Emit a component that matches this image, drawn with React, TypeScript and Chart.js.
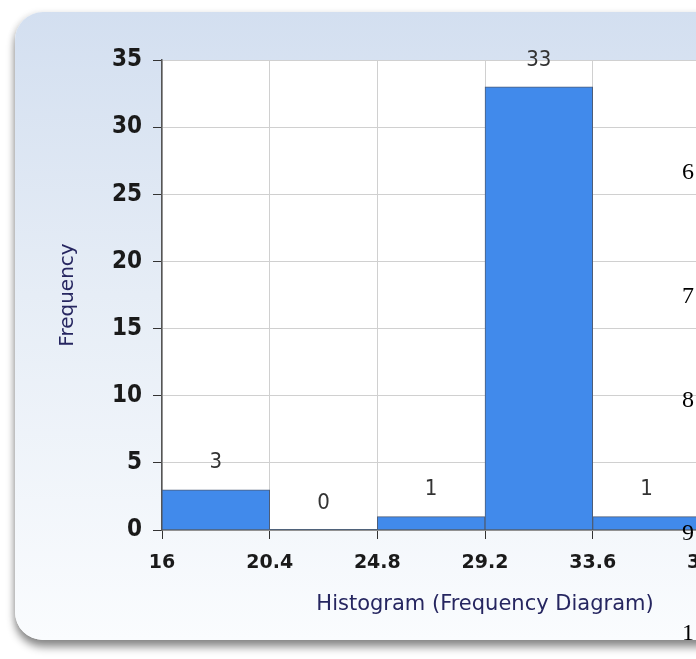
import React, { useEffect, useRef } from "react";
import { Chart, registerables } from "chart.js";

Chart.register(...registerables);

const binEdges = [16, 20.4, 24.8, 29.2, 33.6, 38, 42.4];
const tickLabels = ["16", "20.4", "24.8", "29.2", "33.6", "38", "42.4"];
const binCenters = [18.2, 22.6, 27, 31.4, 35.8, 40.2];
const frequencies = [3, 0, 1, 33, 1, 2];
const yTicks = [0, 5, 10, 15, 20, 25, 30, 35];
const sideDigits = ["6", "7", "8", "9", "1"];
const sideDigitTops = [159, 283, 387, 520, 620];

const CONDENSED = '"DejaVu Sans Condensed", "Liberation Sans Narrow", "DejaVu Sans", sans-serif';
const SANS = '"DejaVu Sans", Verdana, sans-serif';

const plotBg = {
  id: "plotBg",
  beforeDraw(chart: any) {
    const { ctx, chartArea } = chart;
    ctx.save();
    ctx.fillStyle = "#ffffff";
    ctx.fillRect(chartArea.left, chartArea.top, chartArea.right - chartArea.left, chartArea.bottom - chartArea.top);
    ctx.restore();
  },
};

const valueLabels = {
  id: "valueLabels",
  afterDatasetsDraw(chart: any) {
    const { ctx } = chart;
    const meta = chart.getDatasetMeta(0);
    const data = chart.data.datasets[0].data as any[];
    ctx.save();
    ctx.font = `22px ${CONDENSED}`;
    ctx.fillStyle = "#333333";
    ctx.textAlign = "center";
    ctx.textBaseline = "middle";
    meta.data.forEach((el: any, i: number) => {
      ctx.fillText(String(data[i].y), el.x, el.y - 27);
    });
    ctx.restore();
  },
};

export default function App() {
  const ref = useRef<HTMLCanvasElement | null>(null);

  useEffect(() => {
    if (!ref.current) return;
    const chart = new Chart(ref.current, {
      type: "bar",
      data: {
        datasets: [
          {
            label: "Frequency",
            data: binCenters.map((x, i) => ({ x, y: frequencies[i] })),
            backgroundColor: "#418aeb",
            borderColor: "#4d5d78",
            borderWidth: frequencies.map((v) => (v > 0 ? 1 : 0)),
            barPercentage: 1,
            categoryPercentage: 1,
          },
        ],
      },
      options: {
        animation: false,
        responsive: false,
        maintainAspectRatio: false,
        layout: { padding: { top: 60, right: 92, left: 0, bottom: 0 } },
        plugins: { legend: { display: false }, tooltip: { enabled: false } },
        scales: {
          x: {
            type: "linear",
            min: binEdges[0],
            max: binEdges[binEdges.length - 1],
            offset: false,
            grid: { offset: false, color: "#d0d0d0", tickColor: "#333333", tickLength: 9, lineWidth: 1 },
            border: { color: "#555555", width: 1.5 },
            afterBuildTicks: (scale: any) => {
              scale.ticks = binEdges.map((v) => ({ value: v }));
            },
            afterFit: (scale: any) => {
              scale.height = 129;
            },
            ticks: {
              autoSkip: false,
              maxRotation: 0,
              padding: 13,
              color: "#1a1a1a",
              font: { family: SANS, size: 19, weight: "bold" },
              callback: (v: any) => {
                const idx = binEdges.findIndex((e) => Math.abs(e - Number(v)) < 1e-6);
                return idx >= 0 ? tickLabels[idx] : "";
              },
            },
            title: {
              display: true,
              text: "Histogram (Frequency Diagram)",
              color: "#262660",
              font: { family: SANS, size: 21 },
              padding: { top: 0, bottom: 42 },
            },
          },
          y: {
            min: 0,
            max: 35,
            afterBuildTicks: (scale: any) => {
              scale.ticks = yTicks.map((v) => ({ value: v }));
            },
            afterFit: (scale: any) => {
              scale.width = 162;
            },
            grid: { color: "#d0d0d0", tickColor: "#333333", tickLength: 9, lineWidth: 1 },
            border: { color: "#555555", width: 1.5 },
            ticks: {
              padding: 11,
              color: "#1a1a1a",
              font: { family: CONDENSED, size: 24, weight: "bold" },
            },
            title: {
              display: true,
              text: "Frequency",
              color: "#262660",
              font: { family: SANS, size: 20 },
              padding: { top: 56, bottom: 0 },
            },
          },
        },
      },
      plugins: [plotBg, valueLabels],
    });
    return () => chart.destroy();
  }, []);

  return (
    <div style={{ position: "fixed", left: 0, top: 0, width: 696, height: 659, overflow: "hidden", background: "#ffffff" }}>
      <div
        style={{
          position: "absolute",
          left: 15,
          top: 12,
          width: 900,
          height: 628,
          borderRadius: 28,
          background: "linear-gradient(to bottom, #d3dff0 0%, #e6edf6 45%, #fafcfe 100%)",
          boxShadow: "0 7px 8px rgba(0,0,0,0.45), -2px 0 6px rgba(0,0,0,0.08)",
        }}
      />
      <canvas ref={ref} width={900} height={659} style={{ position: "absolute", left: 0, top: 0, width: 900, height: 659 }} />
      {sideDigits.map((d, i) => (
        <span
          key={i}
          style={{
            position: "absolute",
            left: 682,
            top: sideDigitTops[i],
            fontFamily: '"Liberation Serif", "Times New Roman", serif',
            fontSize: 24,
            lineHeight: "24px",
            color: "#000000",
          }}
        >
          {d}
        </span>
      ))}
    </div>
  );
}
